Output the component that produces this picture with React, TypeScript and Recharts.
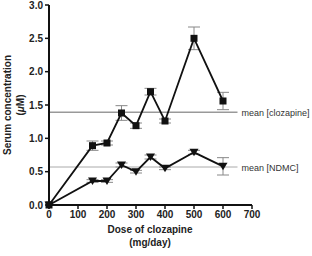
import { LineChart, Line, XAxis, YAxis, ErrorBar, ReferenceLine } from 'recharts'

const doses = [0, 150, 200, 250, 300, 350, 400, 500, 600]
const clozapine = [0, 0.89, 0.93, 1.38, 1.19, 1.7, 1.26, 2.5, 1.56]
const clozapineErr = [0, 0.07, 0.03, 0.11, 0.04, 0.05, 0.03, 0.17, 0.13]
const ndmc = [0, 0.36, 0.36, 0.6, 0.5, 0.72, 0.55, 0.79, 0.58]
const ndmcErr = [0, 0.02, 0.02, 0.03, 0.02, 0.03, 0.02, 0.03, 0.13]
const xTicks = [0, 100, 200, 300, 400, 500, 600, 700]
const yTicks = [0, 0.5, 1, 1.5, 2, 2.5, 3]
const meanClozapine = 1.39
const meanNdmc = 0.57

const data = doses.map((dose, i) => ({
  dose,
  cloz: clozapine[i],
  clozErr: clozapineErr[i],
  ndmc: ndmc[i],
  ndmcErr: ndmcErr[i],
}))

const font = 'Arial, "Liberation Sans", sans-serif'
const tickStyle = { fontSize: 10, fontWeight: 700, fill: '#222', fontFamily: font }

const SquareDot = (props: any) => {
  const { cx, cy } = props
  if (cx == null || cy == null) return null
  return <rect x={cx - 3.5} y={cy - 3.5} width={7} height={7} fill="#111" />
}

const TriangleDot = (props: any) => {
  const { cx, cy } = props
  if (cx == null || cy == null) return null
  return <path d={`M${cx - 4.5},${cy - 3.5} L${cx + 4.5},${cy - 3.5} L${cx},${cy + 4} Z`} fill="#111" />
}

const MeanLabel = (text: string) => (props: any) => {
  const { viewBox } = props
  if (!viewBox) return null
  const x = viewBox.x + viewBox.width + 4
  const y = viewBox.y
  return (
    <text x={x} y={y} dy={3.5} fontSize={9} fill="#333" fontFamily={font}>
      {text}
    </text>
  )
}

const YLabel = () => (
  <g>
    <text
      transform="translate(11,105) rotate(-90)"
      textAnchor="middle"
      fontSize={10}
      fontWeight={700}
      fill="#222"
      fontFamily={font}
    >
      Serum concentration
    </text>
    <text
      transform="translate(24,105) rotate(-90)"
      textAnchor="middle"
      fontSize={10}
      fontWeight={700}
      fill="#222"
      fontFamily={font}
    >
      (<tspan fontStyle="italic">μ</tspan>M)
    </text>
  </g>
)

export default function App() {
  return (
    <div style={{ position: 'absolute', left: 0, top: 0, width: 312, height: 256, background: '#fff' }}>
      <LineChart width={312} height={256} data={data} margin={{ top: 5, right: 60, left: 0, bottom: 0 }}>
        <XAxis
          dataKey="dose"
          type="number"
          domain={[0, 700]}
          ticks={xTicks}
          tick={tickStyle}
          tickSize={4}
          height={51}
          axisLine={{ stroke: '#111', strokeWidth: 2 }}
          tickLine={{ stroke: '#111', strokeWidth: 1.5 }}
          label={{
            content: () => (
              <g>
                <text x={150} y={233} textAnchor="middle" fontSize={10} fontWeight={700} fill="#222" fontFamily={font}>
                  Dose of clozapine
                </text>
                <text x={150} y={246} textAnchor="middle" fontSize={10} fontWeight={700} fill="#222" fontFamily={font}>
                  (mg/day)
                </text>
              </g>
            ),
          }}
        />
        <YAxis
          type="number"
          domain={[0, 3]}
          ticks={yTicks}
          tickFormatter={(v: number) => v.toFixed(1)}
          tick={tickStyle}
          tickSize={4}
          width={49}
          axisLine={{ stroke: '#111', strokeWidth: 2 }}
          tickLine={{ stroke: '#111', strokeWidth: 1.5 }}
          label={{ content: () => <YLabel /> }}
        />
        <ReferenceLine
          segment={[{ x: 0, y: meanClozapine }, { x: 650, y: meanClozapine }]}
          stroke="#999"
          strokeWidth={1.5}
          ifOverflow="visible"
          label={{ content: MeanLabel('mean [clozapine]') }}
        />
        <ReferenceLine
          segment={[{ x: 0, y: meanNdmc }, { x: 650, y: meanNdmc }]}
          stroke="#aaa"
          strokeWidth={1}
          ifOverflow="visible"
          label={{ content: MeanLabel('mean [NDMC]') }}
        />
        <Line
          dataKey="cloz"
          stroke="#111"
          strokeWidth={1.8}
          dot={<SquareDot />}
          activeDot={false}
          isAnimationActive={false}
        >
          <ErrorBar dataKey="clozErr" width={6} stroke="#888" strokeWidth={1} />
        </Line>
        <Line
          dataKey="ndmc"
          stroke="#111"
          strokeWidth={1.8}
          dot={<TriangleDot />}
          activeDot={false}
          isAnimationActive={false}
        >
          <ErrorBar dataKey="ndmcErr" width={6} stroke="#888" strokeWidth={1} />
        </Line>
      </LineChart>
    </div>
  )
}
